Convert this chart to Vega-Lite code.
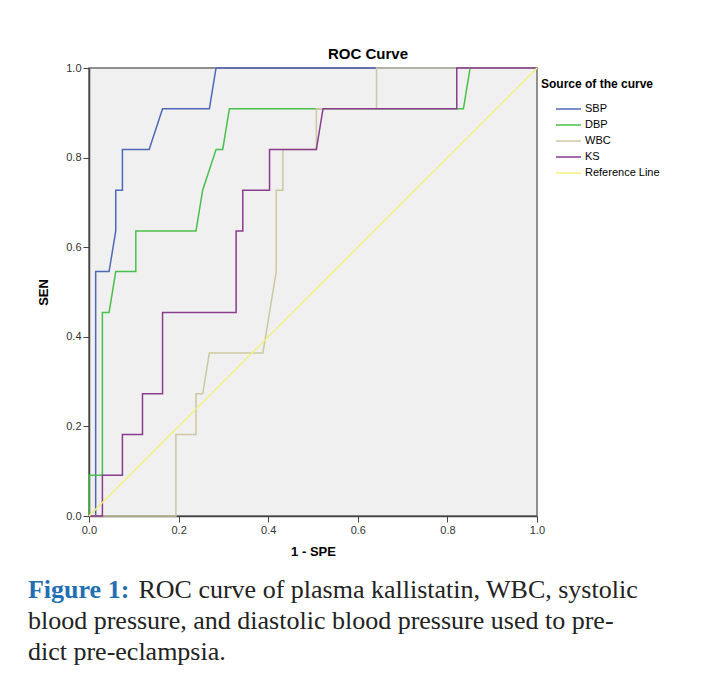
{
  "$schema": "https://vega.github.io/schema/vega-lite/v6.json",
  "padding": {"left": 27, "top": 46, "right": 5, "bottom": 5},
  "background": "white",
  "title": {
    "text": "Figure 1:",
    "subtitle": ["\u200b\u00a0\u00a0\u00a0\u00a0\u00a0\u00a0\u00a0\u00a0\u00a0\u00a0\u00a0\u00a0\u00a0\u00a0\u00a0\u00a0\u00a0ROC curve of plasma kallistatin, WBC, systolic", "blood pressure, and diastolic blood pressure used to pre-", "dict pre-eclampsia."],
    "orient": "bottom",
    "anchor": "start",
    "frame": "bounds",
    "font": "Liberation Serif",
    "fontSize": 26,
    "fontWeight": "bold",
    "color": "#1f6fb2",
    "subtitleFont": "Liberation Serif",
    "subtitleFontSize": 26,
    "subtitleFontWeight": "normal",
    "subtitleColor": "#222222",
    "subtitlePadding": -26,
    "subtitleLineHeight": 31,
    "offset": 18,
    "dx": -9
  },
  "vconcat": [
    {
      "width": 448,
      "height": 448,
      "title": {"text": "ROC Curve", "font": "Liberation Sans", "fontSize": 15, "fontWeight": "bold", "color": "#000000", "dx": 55, "offset": 0},
      "data": {"values": [
        {"curve": "SBP", "step": 0, "spe1": 0, "sen": 0},
        {"curve": "SBP", "step": 1, "spe1": 0.0149, "sen": 0},
        {"curve": "SBP", "step": 2, "spe1": 0.0149, "sen": 0.5455},
        {"curve": "SBP", "step": 3, "spe1": 0.0448, "sen": 0.5455},
        {"curve": "SBP", "step": 4, "spe1": 0.0597, "sen": 0.6364},
        {"curve": "SBP", "step": 5, "spe1": 0.0597, "sen": 0.7273},
        {"curve": "SBP", "step": 6, "spe1": 0.0746, "sen": 0.7273},
        {"curve": "SBP", "step": 7, "spe1": 0.0746, "sen": 0.8182},
        {"curve": "SBP", "step": 8, "spe1": 0.1343, "sen": 0.8182},
        {"curve": "SBP", "step": 9, "spe1": 0.1642, "sen": 0.9091},
        {"curve": "SBP", "step": 10, "spe1": 0.2687, "sen": 0.9091},
        {"curve": "SBP", "step": 11, "spe1": 0.2836, "sen": 1},
        {"curve": "SBP", "step": 12, "spe1": 1, "sen": 1},
        {"curve": "DBP", "step": 0, "spe1": 0, "sen": 0},
        {"curve": "DBP", "step": 1, "spe1": 0, "sen": 0.0909},
        {"curve": "DBP", "step": 2, "spe1": 0.0299, "sen": 0.0909},
        {"curve": "DBP", "step": 3, "spe1": 0.0299, "sen": 0.4545},
        {"curve": "DBP", "step": 4, "spe1": 0.0448, "sen": 0.4545},
        {"curve": "DBP", "step": 5, "spe1": 0.0597, "sen": 0.5455},
        {"curve": "DBP", "step": 6, "spe1": 0.1045, "sen": 0.5455},
        {"curve": "DBP", "step": 7, "spe1": 0.1045, "sen": 0.6364},
        {"curve": "DBP", "step": 8, "spe1": 0.2388, "sen": 0.6364},
        {"curve": "DBP", "step": 9, "spe1": 0.2537, "sen": 0.7273},
        {"curve": "DBP", "step": 10, "spe1": 0.2836, "sen": 0.8182},
        {"curve": "DBP", "step": 11, "spe1": 0.2985, "sen": 0.8182},
        {"curve": "DBP", "step": 12, "spe1": 0.3134, "sen": 0.9091},
        {"curve": "DBP", "step": 13, "spe1": 0.8358, "sen": 0.9091},
        {"curve": "DBP", "step": 14, "spe1": 0.8507, "sen": 1},
        {"curve": "DBP", "step": 15, "spe1": 1, "sen": 1},
        {"curve": "WBC", "step": 0, "spe1": 0, "sen": 0},
        {"curve": "WBC", "step": 1, "spe1": 0.194, "sen": 0},
        {"curve": "WBC", "step": 2, "spe1": 0.194, "sen": 0.1818},
        {"curve": "WBC", "step": 3, "spe1": 0.2388, "sen": 0.1818},
        {"curve": "WBC", "step": 4, "spe1": 0.2388, "sen": 0.2727},
        {"curve": "WBC", "step": 5, "spe1": 0.2537, "sen": 0.2727},
        {"curve": "WBC", "step": 6, "spe1": 0.2687, "sen": 0.3636},
        {"curve": "WBC", "step": 7, "spe1": 0.3881, "sen": 0.3636},
        {"curve": "WBC", "step": 8, "spe1": 0.4179, "sen": 0.5455},
        {"curve": "WBC", "step": 9, "spe1": 0.4179, "sen": 0.7273},
        {"curve": "WBC", "step": 10, "spe1": 0.4328, "sen": 0.7273},
        {"curve": "WBC", "step": 11, "spe1": 0.4328, "sen": 0.8182},
        {"curve": "WBC", "step": 12, "spe1": 0.5075, "sen": 0.8182},
        {"curve": "WBC", "step": 13, "spe1": 0.5075, "sen": 0.9091},
        {"curve": "WBC", "step": 14, "spe1": 0.6418, "sen": 0.9091},
        {"curve": "WBC", "step": 15, "spe1": 0.6418, "sen": 1},
        {"curve": "WBC", "step": 16, "spe1": 1, "sen": 1},
        {"curve": "KS", "step": 0, "spe1": 0, "sen": 0},
        {"curve": "KS", "step": 1, "spe1": 0.0299, "sen": 0},
        {"curve": "KS", "step": 2, "spe1": 0.0299, "sen": 0.0909},
        {"curve": "KS", "step": 3, "spe1": 0.0746, "sen": 0.0909},
        {"curve": "KS", "step": 4, "spe1": 0.0746, "sen": 0.1818},
        {"curve": "KS", "step": 5, "spe1": 0.1194, "sen": 0.1818},
        {"curve": "KS", "step": 6, "spe1": 0.1194, "sen": 0.2727},
        {"curve": "KS", "step": 7, "spe1": 0.1642, "sen": 0.2727},
        {"curve": "KS", "step": 8, "spe1": 0.1642, "sen": 0.4545},
        {"curve": "KS", "step": 9, "spe1": 0.3284, "sen": 0.4545},
        {"curve": "KS", "step": 10, "spe1": 0.3284, "sen": 0.6364},
        {"curve": "KS", "step": 11, "spe1": 0.3433, "sen": 0.6364},
        {"curve": "KS", "step": 12, "spe1": 0.3433, "sen": 0.7273},
        {"curve": "KS", "step": 13, "spe1": 0.403, "sen": 0.7273},
        {"curve": "KS", "step": 14, "spe1": 0.403, "sen": 0.8182},
        {"curve": "KS", "step": 15, "spe1": 0.5075, "sen": 0.8182},
        {"curve": "KS", "step": 16, "spe1": 0.5224, "sen": 0.9091},
        {"curve": "KS", "step": 17, "spe1": 0.8209, "sen": 0.9091},
        {"curve": "KS", "step": 18, "spe1": 0.8209, "sen": 1},
        {"curve": "KS", "step": 19, "spe1": 1, "sen": 1},
        {"curve": "Reference Line", "step": 0, "spe1": 0, "sen": 0},
        {"curve": "Reference Line", "step": 1, "spe1": 1, "sen": 1}
      ]},
      "mark": {"type": "line", "strokeWidth": 1.5},
      "encoding": {
        "x": {
          "field": "spe1", "type": "quantitative",
          "scale": {"domain": [0, 1], "nice": false, "zero": false},
          "axis": {"title": "1 - SPE", "values": [0, 0.2, 0.4, 0.6, 0.8, 1], "format": ".1f", "labelFlush": false, "titlePadding": 10}
        },
        "y": {
          "field": "sen", "type": "quantitative",
          "scale": {"domain": [0, 1], "nice": false, "zero": false},
          "axis": {"title": "SEN", "values": [0, 0.2, 0.4, 0.6, 0.8, 1], "format": ".1f", "labelFlush": false, "titlePadding": 15}
        },
        "color": {
          "field": "curve", "type": "nominal",
          "scale": {"domain": ["SBP", "DBP", "WBC", "KS", "Reference Line"], "range": ["#4f68b5", "#49c04a", "#cdc8a0", "#8a3d8e", "#f4ef7e"]},
          "legend": {
            "title": "Source of the curve",
            "orient": "none", "legendX": 452, "legendY": 11,
            "padding": 0,
            "titleFont": "Liberation Sans", "titleFontSize": 12, "titleFontWeight": "bold", "titleColor": "#000000", "titlePadding": 10,
            "labelFont": "Liberation Sans", "labelFontSize": 11, "labelColor": "#000000",
            "symbolType": "stroke", "symbolSize": 625, "symbolStrokeWidth": 1.5, "symbolOffset": 14, "labelOffset": 3,
            "clipHeight": 16, "rowPadding": 0
          }
        },
        "order": {"field": "step", "type": "quantitative"}
      }
    }
  ],
  "config": {
    "view": {"fill": "#f0f0f0", "stroke": "#6e6e6e", "strokeWidth": 1.5},
    "axis": {
      "grid": false,
      "labelFont": "Liberation Sans", "labelFontSize": 11, "labelColor": "#333333",
      "titleFont": "Liberation Sans", "titleFontSize": 13, "titleFontWeight": "bold", "titleColor": "#000000",
      "domainColor": "#444444", "domainWidth": 1.5, "tickColor": "#444444", "tickSize": 6, "labelPadding": 2
    }
  }
}
